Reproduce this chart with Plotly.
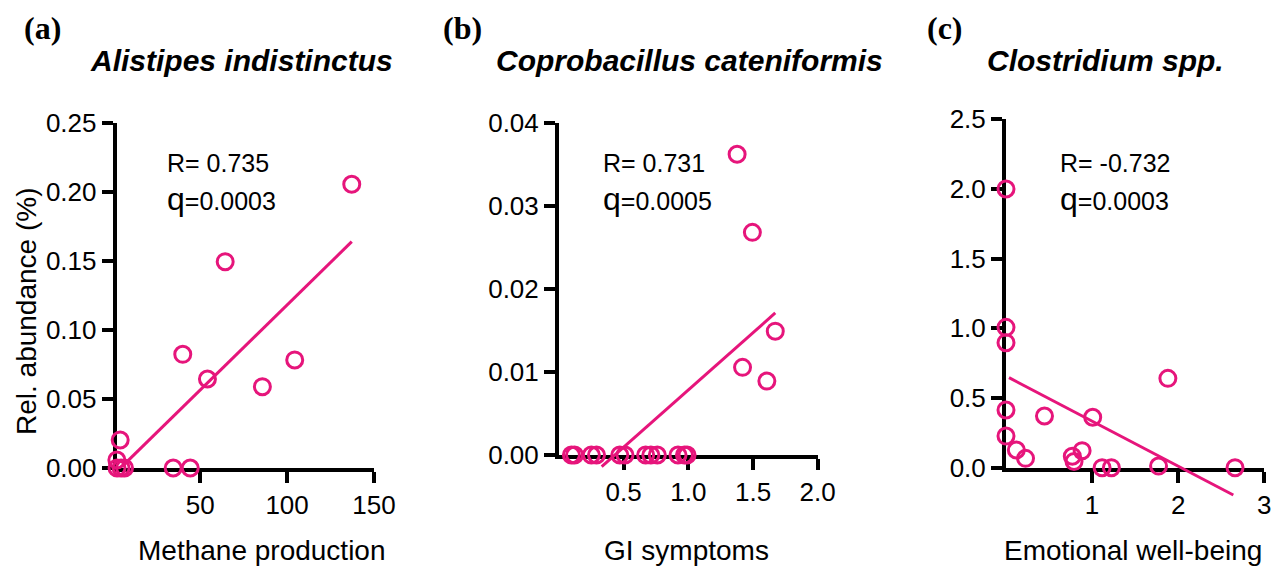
import plotly.graph_objects as go

# ---------------- data ----------------
a_x = [137.2, 64.4, 40.0, 54.2, 85.8, 104.4, 34.5, 44.3, 4.0, 2.1, 2.2, 4.5, 6.5]
a_y = [0.2056, 0.1495, 0.0824, 0.0645, 0.0589, 0.0783, 0.0, 0.0, 0.0203, 0.0058, 0.0, 0.0, 0.0]
a_fit_x = [5.0, 137.2]
a_fit_y = [0.001, 0.164]

b_x = [1.377, 1.495, 1.672, 1.419, 1.607,
       0.096, 0.12, 0.25, 0.29, 0.47, 0.51, 0.67, 0.71, 0.76, 0.92, 0.97, 0.99]
b_y = [0.0362, 0.0268, 0.0149, 0.01055, 0.0089,
       0, 0, 0, 0, 0, 0, 0, 0, 0, 0, 0, 0]
b_fit_x = [0.33, 1.672]
b_fit_y = [-0.0014, 0.0171]

c_x = [0, 0, 0, 0, 0, 0.12, 0.227, 0.447, 0.77, 0.79, 0.884, 1.007, 1.116, 1.224, 1.772, 1.88, 2.66]
c_y = [2.0, 1.007, 0.897, 0.414, 0.227, 0.127, 0.067, 0.371, 0.082, 0.045, 0.122, 0.362, 0.0, 0.0, 0.012, 0.641, 0.0]
c_fit_x = [0.035, 2.64]
c_fit_y = [0.646, -0.196]

titles = ["Alistipes indistinctus", "Coprobacillus cateniformis", "Clostridium spp."]
letters = ["(a)", "(b)", "(c)"]
x_titles = ["Methane production", "GI symptoms", "Emotional well-being"]
r_texts = ["R= 0.735", "R= 0.731", "R= -0.732"]
q_texts = ["0.0003", "0.0005", "0.0003"]
y_title = "Rel. abundance (%)"

a_xticks = [50, 100, 150]
b_xticks = [0.5, 1.0, 1.5, 2.0]
c_xticks = [1, 2, 3]
a_yticks = [0.0, 0.05, 0.10, 0.15, 0.20, 0.25]
b_yticks = [0.0, 0.01, 0.02, 0.03, 0.04]
c_yticks = [0.0, 0.5, 1.0, 1.5, 2.0, 2.5]

# ---------------- layout helpers ----------------
OFF = 8                      # default page body margin
W, H = 1280 - 2 * OFF, 578 - 2 * OFF
PINK = "#E6157B"
FONT = "Liberation Sans, Arial, sans-serif"


def fx(px):
    return (px - OFF) / W


def fy(py):
    return 1 - (py - OFF) / H


panels = [
    dict(xs=a_x, ys=a_y, fx_=a_fit_x, fy_=a_fit_y, xr=[2, 150], yr=[0, 0.25],
         px=(116.7, 374.0), py=(468.0, 123.0), ymin=-0.01,
         xt=a_xticks, xfmt="{:g}", yt=a_yticks, yfmt="{:.2f}",
         title_x=242, r_x=165, letter_x=42, xtitle_x=262),
    dict(xs=b_x, ys=b_y, fx_=b_fit_x, fy_=b_fit_y, xr=[0, 2.0], yr=[0, 0.04],
         px=(559.0, 817.7), py=(455.0, 122.7), ymin=-0.003,
         xt=b_xticks, xfmt="{:.1f}", yt=b_yticks, yfmt="{:.2f}",
         title_x=689, r_x=601, letter_x=463, xtitle_x=686),
    dict(xs=c_x, ys=c_y, fx_=c_fit_x, fy_=c_fit_y, xr=[0, 3], yr=[0, 2.5],
         px=(1006.0, 1264.3), py=(467.7, 119.3), ymin=-0.25,
         xt=c_xticks, xfmt="{:g}", yt=c_yticks, yfmt="{:.1f}",
         title_x=1105, r_x=1058, letter_x=945, xtitle_x=1133),
]

fig = go.Figure()
layout = dict(
    width=W, height=H, margin=dict(l=0, r=0, t=0, b=0, pad=0, autoexpand=False),
    paper_bgcolor="white", plot_bgcolor="rgba(0,0,0,0)",
    showlegend=False, font=dict(family=FONT, color="black"),
)
annotations = []

for i, p in enumerate(panels):
    n = i + 1
    fn = i + 4
    xa = "x" if n == 1 else f"x{n}"
    ya = "y" if n == 1 else f"y{n}"
    fxa = f"x{fn}"
    fya = f"y{fn}"
    x_dom = [fx(p["px"][0]), min(1.0, fx(p["px"][1]))]
    y_dom = [fy(p["py"][0]), fy(p["py"][1])]
    ppu = (p["py"][0] - p["py"][1]) / (p["yr"][1] - p["yr"][0])
    low_px = p["py"][0] + (0 - p["ymin"]) * ppu
    fy_dom = [fy(low_px), fy(p["py"][1])]

    axis_common = dict(showline=True, linecolor="black", linewidth=4,
                       ticks="outside", ticklen=11, tickwidth=3.5, tickcolor="black",
                       showgrid=False, zeroline=False, layer="below traces",
                       automargin=False,
                       tickfont=dict(family=FONT, size=26, color="black"))
    layout["xaxis" if n == 1 else f"xaxis{n}"] = dict(
        domain=x_dom, range=p["xr"], anchor=ya,
        tickvals=p["xt"], ticktext=[p["xfmt"].format(v) for v in p["xt"]],
        **axis_common)
    layout["yaxis" if n == 1 else f"yaxis{n}"] = dict(
        domain=y_dom, range=p["yr"], anchor=xa,
        tickvals=p["yt"], ticktext=[p["yfmt"].format(v) for v in p["yt"]],
        **axis_common)
    layout[f"xaxis{fn}"] = dict(domain=x_dom, range=p["xr"], anchor=fya, visible=False,
                                automargin=False)
    layout[f"yaxis{fn}"] = dict(domain=fy_dom, range=[p["ymin"], p["yr"][1]], anchor=fxa,
                                visible=False, automargin=False)

    fig.add_trace(go.Scatter(x=p["fx_"], y=p["fy_"], mode="lines",
                             line=dict(color=PINK, width=3),
                             xaxis=fxa, yaxis=fya, hoverinfo="skip"))
    fig.add_trace(go.Scatter(x=p["xs"], y=p["ys"], mode="markers", cliponaxis=False,
                             marker=dict(symbol="circle-open", size=16, color=PINK,
                                         line=dict(color=PINK, width=3)),
                             xaxis=xa, yaxis=ya))

    annotations.append(dict(text=f"<b>{letters[i]}</b>", x=fx(p["letter_x"]), y=fy(28),
                            xref="paper", yref="paper", showarrow=False,
                            xanchor="center", yanchor="middle",
                            font=dict(family="Liberation Serif, Times New Roman, serif",
                                      size=32, color="black")))
    annotations.append(dict(text=f"<b><i>{titles[i]}</i></b>", x=fx(p["title_x"]), y=fy(60),
                            xref="paper", yref="paper", showarrow=False,
                            xanchor="center", yanchor="middle",
                            font=dict(family=FONT, size=30, color="black")))
    annotations.append(dict(text=x_titles[i], x=fx(p["xtitle_x"]), y=fy(550),
                            xref="paper", yref="paper", showarrow=False,
                            xanchor="center", yanchor="middle",
                            font=dict(family=FONT, size=28, color="black")))
    annotations.append(dict(text=r_texts[i], x=fx(p["r_x"]), y=fy(163),
                            xref="paper", yref="paper", showarrow=False,
                            xanchor="left", yanchor="middle",
                            font=dict(family=FONT, size=25, color="black")))
    annotations.append(dict(text=f"<span style='font-size:32px'>q</span>={q_texts[i]}",
                            x=fx(p["r_x"]), y=fy(199),
                            xref="paper", yref="paper", showarrow=False,
                            xanchor="left", yanchor="middle",
                            font=dict(family=FONT, size=25, color="black")))

annotations.append(dict(text=y_title, x=fx(26), y=fy(312), xref="paper", yref="paper",
                        showarrow=False, textangle=-90, xanchor="center", yanchor="middle",
                        font=dict(family=FONT, size=28, color="black")))
layout["annotations"] = annotations
fig.update_layout(**layout)
fig.write_html("out.html")
